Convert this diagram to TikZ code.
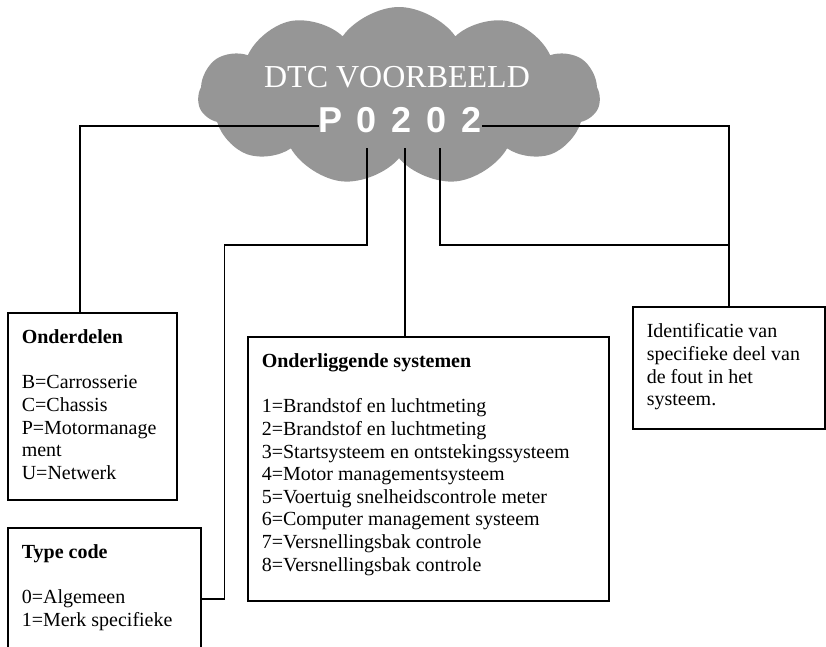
\documentclass[tikz,border=0pt]{standalone}
\usepackage{fontspec}
\setmainfont{Liberation Serif}
\newfontfamily\codefont{Liberation Sans}
\usetikzlibrary{shapes.symbols}
\definecolor{cloudgray}{RGB}{150,150,150}
\newcommand{\panelfont}{\fontsize{20}{22.6}\selectfont}
\newcommand{\paneltext}[3]{\parbox[t][#2][t]{#1}{\raggedright #3}}
\tikzset{
  wire/.style={line width=1.6pt},
  panel/.style={draw,line width=1.6pt,anchor=north west,inner xsep=14pt,
    inner ysep=17pt,font=\panelfont,align=left},
  codechar/.style={text=white,inner sep=0pt,anchor=base,
    font=\codefont\bfseries\fontsize{36}{36}\selectfont},
}
\begin{document}
\begin{tikzpicture}[x=1pt,y=-1pt]
  \clip (0,0) rectangle (826,646);
  % cloud with the example code
  \node[cloud,cloud puffs=11,cloud puff arc=110,aspect=2.3,fill=cloudgray,
    minimum width=402pt,minimum height=178pt] (bubble) at (399,96) {};
  \node[text=white,anchor=base,inner sep=0pt,font=\fontsize{32}{32}\selectfont]
    (title) at (397,87) {DTC VOORBEELD};
  \foreach \ch/\x [count=\i] in {P/331,0/367,2/402,0/437,2/472}
    \node[codechar] (c\i) at (\x,132) {\ch};
  % boxes
  \node[panel] (parts) at (7,312) {\paneltext{141pt}{153pt}{%
    \textbf{Onderdelen}\\[22.6pt]
    B=Carrosserie\\C=Chassis\\P=Motormanage\\ment\\U=Netwerk}};
  \node[panel] (type) at (7,527) {\paneltext{165pt}{108pt}{%
    \textbf{Type code}\\[22.6pt]
    0=Algemeen\\1=Merk specifieke}};
  \node[panel] (sub) at (247,336) {\paneltext{333pt}{230pt}{%
    \textbf{Onderliggende systemen}\\[22.6pt]
    1=Brandstof en luchtmeting\\
    2=Brandstof en luchtmeting\\
    3=Startsysteem en ontstekingssysteem\\
    4=Motor managementsysteem\\
    5=Voertuig snelheidscontrole meter\\
    6=Computer management systeem\\
    7=Versnellingsbak controle\\
    8=Versnellingsbak controle}};
  \node[panel] (ident) at (632,306) {\paneltext{164pt}{88pt}{%
    Identificatie van\\specifieke deel van\\de fout in het\\systeem.}};
  % connectors
  \coordinate (pl) at ([yshift=6pt]c1.base west);
  \coordinate (pr) at ([yshift=6pt]c5.base east);
  \coordinate (s2) at ([yshift=-16pt]c2.base);
  \coordinate (s3) at ([xshift=3pt,yshift=-16pt]c3.base);
  \coordinate (s4) at ([xshift=3pt,yshift=-16pt]c4.base);
  \coordinate (pa) at ([xshift=-12.5pt]parts.north);
  \coordinate (tc) at ([xshift=23pt]type.east);
  \coordinate (bend) at (0,245);
  \draw[wire] (pl) -| (pa);
  \draw[wire] (pr) -| (ident.north);
  \draw[wire] (s4) |- (ident.north |- bend);
  \draw[wire] (s3) -- (s3 |- sub.north);
  \draw[wire] (s2) |- (tc |- bend) |- (type.east);
\end{tikzpicture}
\end{document}
